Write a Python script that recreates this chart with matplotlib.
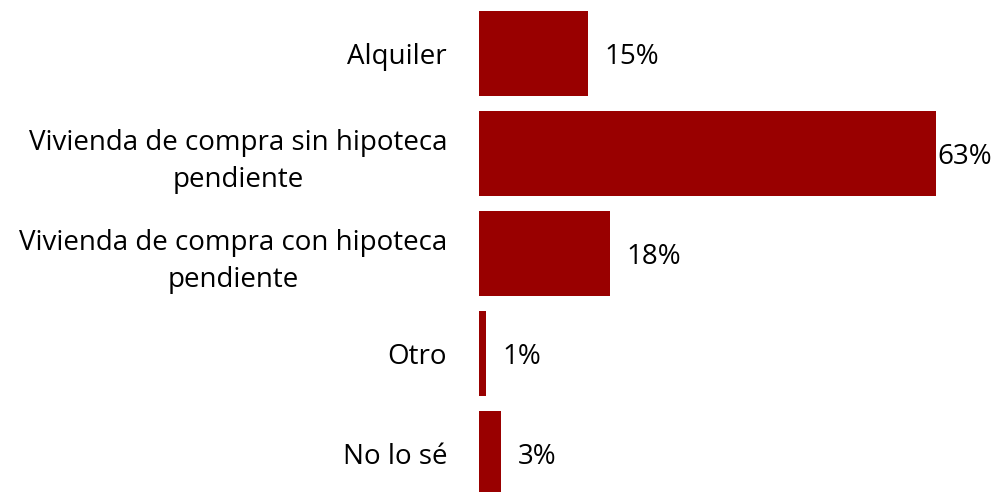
import matplotlib
matplotlib.use("Agg")
import matplotlib.pyplot as plt

categories = ["Alquiler",
              "Vivienda de compra sin hipoteca\npendiente",
              "Vivienda de compra con hipoteca\npendiente",
              "Otro",
              "No lo sé"]
values = [15, 63, 18, 1, 3]
value_labels = ["15%", "63%", "18%", "1%", "3%"]

plt.rcParams['font.family'] = ['Open Sans', 'DejaVu Sans']

fig = plt.figure(figsize=(9.99, 4.92), dpi=100)
ax = fig.add_axes([479/999, 0, 507.5/999, 1])
pos = list(range(len(categories)))
ax.barh(pos, values, height=0.85, color="#990000", edgecolor="none")
ax.set_xlim(0, 70)
ax.set_ylim(4.385, -0.535)
ax.set_yticks(pos)
ax.set_yticklabels(categories, fontsize=20, ha="right", multialignment="center",
                   linespacing=1.45)
ax.tick_params(axis="y", length=0, pad=23)
ax.set_xticks([])
for s in ax.spines.values():
    s.set_visible(False)

vmax = max(values)
for p, v, lab in zip(pos, values, value_labels):
    off = 1 if v == vmax else 12
    ax.annotate(lab, (v, p), xytext=(off, 0), textcoords="offset points",
                va="center_baseline", ha="left", fontsize=20,
                annotation_clip=False)

fig.savefig("out.png", dpi=100)
